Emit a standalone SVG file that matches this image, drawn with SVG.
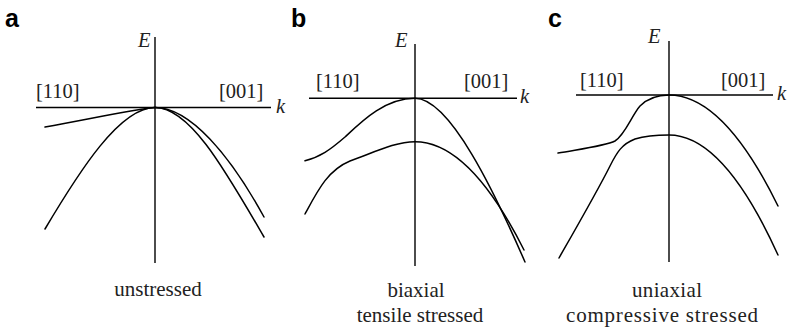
<svg xmlns="http://www.w3.org/2000/svg" width="787" height="329" viewBox="0 0 787 329">
<style>
.ax{stroke:#000;stroke-width:1.4;fill:none}
.cv{stroke:#000;stroke-width:1.5;fill:none;stroke-linecap:round}
.pl{font-family:"Liberation Sans",Arial,sans-serif;font-weight:bold;font-size:25px;fill:#000}
.lb{font-family:"Liberation Serif","Times New Roman","DejaVu Serif",serif;font-size:20.5px;fill:#222}
.it{font-family:"Liberation Serif","Times New Roman","DejaVu Serif",serif;font-style:italic;font-size:20.5px;fill:#222}
.cap{font-family:"Liberation Serif","Times New Roman","DejaVu Serif",serif;font-size:21px;fill:#222;text-anchor:middle}
</style>
<rect width="787" height="329" fill="#fff"/>
<g id="panel-a">
<text class="pl" x="5" y="27">a</text>
<line class="ax" x1="155" y1="37" x2="155" y2="263"/>
<line class="ax" x1="36" y1="107.5" x2="271" y2="107.5"/>
<text class="it" x="138" y="47">E</text>
<text class="it" x="276" y="113">k</text>
<text class="lb" x="36" y="98">[110]</text>
<text class="lb" x="219" y="98">[001]</text>
<path class="cv" d="M45,127 C90,119 130,110 155,107.5"/>
<path class="cv" d="M45,229 C80,170 120,107.5 155,107.5 C190,107.5 225,170 264,237"/>
<path class="cv" d="M155,107.5 C190,107.5 230,155 264,217"/>
<text class="cap" x="158" y="296">unstressed</text>
</g>
<g id="panel-b">
<text class="pl" x="291" y="27">b</text>
<line class="ax" x1="415" y1="44" x2="415" y2="266"/>
<line class="ax" x1="309" y1="98.3" x2="517" y2="98.3"/>
<text class="it" x="395" y="47">E</text>
<text class="it" x="520" y="103">k</text>
<text class="lb" x="316" y="88">[110]</text>
<text class="lb" x="464" y="88">[001]</text>
<path class="cv" d="M305,160.7 C320,157 330,150 345,137 C362,121 385,98.3 415,98.3 C450,98.3 495,193 525,262"/>
<path class="cv" d="M305,214 C318,190 328,170 350,161 C375,152 395,141.7 415,141.7 Q469.5,141.7 524,250"/>
<text class="cap" x="416" y="297">biaxial</text>
<text class="cap" x="420" y="322">tensile stressed</text>
</g>
<g id="panel-c">
<text class="pl" x="548" y="27">c</text>
<line class="ax" x1="669" y1="41" x2="669" y2="262"/>
<line class="ax" x1="576" y1="95" x2="773" y2="95"/>
<text class="it" x="648" y="43">E</text>
<text class="it" x="777" y="100">k</text>
<text class="lb" x="580" y="86.5">[110]</text>
<text class="lb" x="721" y="86.5">[001]</text>
<path class="cv" d="M558,153 C580,149 605,146 615,141 C625,135 632,115 640,106 C648,98 658,95 669,95 Q723.5,95 778,206"/>
<path class="cv" d="M559,258 C575,230 598,190 610,166 C617,152 622,144 635,139 C648,135 660,135 669,135 Q723.5,135 778,255"/>
<text class="cap" x="667" y="297" textLength="70" lengthAdjust="spacing">uniaxial</text>
<text class="cap" x="662" y="322" textLength="192" lengthAdjust="spacing">compressive stressed</text>
</g>
</svg>
